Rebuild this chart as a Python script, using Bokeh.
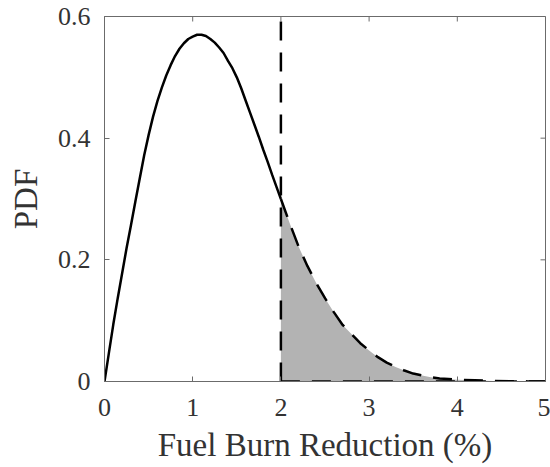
from bokeh.plotting import figure
from bokeh.models import Range1d, FixedTicker
from bokeh.embed import file_html
from bokeh.resources import INLINE
import numpy as np

# Values
x_vals = [0.0, 0.05, 0.1, 0.15, 0.2, 0.25, 0.3, 0.35, 0.4, 0.45,
          0.5, 0.55, 0.6, 0.65, 0.7, 0.75, 0.8, 0.85, 0.9, 0.95,
          1.0, 1.05, 1.1, 1.15, 1.2, 1.25, 1.3, 1.35, 1.4, 1.45,
          1.5, 1.55, 1.6, 1.65, 1.7, 1.75, 1.8, 1.85, 1.9, 1.95,
          2.0, 2.1, 2.2, 2.3, 2.4, 2.5, 2.6, 2.7, 2.8, 2.9,
          3.0, 3.1, 3.2, 3.3, 3.4, 3.5, 3.6, 3.7, 3.8, 3.9,
          4.0, 4.2, 4.4, 4.6, 4.8, 5.0]
pdf_vals = [0.000, 0.047, 0.094, 0.137, 0.178, 0.219, 0.257, 0.296, 0.334, 0.372,
            0.405, 0.435, 0.461, 0.483, 0.503, 0.520, 0.535, 0.547, 0.556, 0.563,
            0.567, 0.570, 0.570, 0.568, 0.563, 0.557, 0.549, 0.540, 0.527, 0.515,
            0.500, 0.482, 0.462, 0.442, 0.422, 0.402, 0.381, 0.361, 0.340, 0.320,
            0.300, 0.260, 0.222, 0.190, 0.162, 0.137, 0.114, 0.093, 0.078, 0.063,
            0.051, 0.040, 0.031, 0.024, 0.018, 0.013, 0.010, 0.007, 0.005, 0.004,
            0.003, 0.002, 0.001, 0.0005, 0.0002, 0.0001]
threshold = 2.0
x_ticks = [0, 1, 2, 3, 4, 5]
y_ticks = [0, 0.2, 0.4, 0.6]
y_tick_labels = {0: "0", 0.2: "0.2", 0.4: "0.4", 0.6: "0.6"}
x_max = 5
y_max = 0.6

FONT = "Liberation Serif"
AXIS_COLOR = "#6b6b6b"
TEXT_COLOR = "#333333"

x = np.array(x_vals)
y = np.array(pdf_vals)
left = x <= threshold
right = x >= threshold

p = figure(width=550, height=467, output_backend="svg", toolbar_location=None,
           x_range=Range1d(0, x_max), y_range=Range1d(0, y_max),
           min_border_left=104, min_border_right=5, min_border_top=16, min_border_bottom=86,
           x_axis_label="Fuel Burn Reduction (%)", y_axis_label="PDF")
p.grid.visible = False
p.outline_line_color = AXIS_COLOR
p.outline_line_width = 1
p.background_fill_color = "white"
p.border_fill_color = "white"

# shaded tail
p.varea(x=x[right], y1=np.zeros(right.sum()), y2=y[right], fill_color="#b3b3b3")
# solid part
p.line(x[left], y[left], line_color="black", line_width=2.5)
# dashed part
dash = "19 12"
p.line(x[right], y[right], line_color="black", line_width=2.5, line_dash=dash)
p.segment(x0=[threshold], y0=[0], x1=[threshold], y1=[y_max], line_color="black",
          line_width=2.5, line_dash=dash)
p.segment(x0=[threshold], y0=[0], x1=[x_max], y1=[0], line_color="black",
          line_width=2.5, line_dash=dash)

# inward ticks on the top and right edges of the box
p.scatter(x=x_ticks, y=[y_max] * len(x_ticks), marker="dash", angle=np.pi / 2, size=10,
          line_color=AXIS_COLOR, line_width=1)
p.scatter(x=[x_max] * len(y_ticks), y=y_ticks, marker="dash", size=10,
          line_color=AXIS_COLOR, line_width=1)

p.xaxis.ticker = FixedTicker(ticks=x_ticks)
p.yaxis.ticker = FixedTicker(ticks=y_ticks)
p.yaxis.major_label_overrides = y_tick_labels
for ax in p.xaxis + p.yaxis:
    ax.axis_line_color = AXIS_COLOR
    ax.major_tick_line_color = AXIS_COLOR
    ax.major_tick_in = 5
    ax.major_tick_out = 0
    ax.minor_tick_line_color = None
    ax.major_label_text_font = FONT
    ax.major_label_text_color = TEXT_COLOR
    ax.major_label_text_font_size = "26px"
    ax.axis_label_text_font = FONT
    ax.axis_label_text_font_style = "normal"
    ax.axis_label_text_color = TEXT_COLOR
    ax.axis_label_text_font_size = "33px"
p.xaxis.major_label_standoff = 17
p.yaxis.major_label_standoff = 14
p.xaxis.axis_label_standoff = 8
p.yaxis.axis_label_standoff = 11

open("out.html", "w").write(file_html(p, INLINE))
